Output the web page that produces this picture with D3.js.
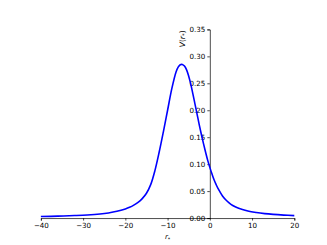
<!DOCTYPE html>
<html>
<head>
<meta charset="utf-8">
<script src="https://cdn.jsdelivr.net/npm/d3@7"></script>
<style>
  html, body { margin: 0; padding: 0; background: #fff; }
  svg { display: block; }
  text { font-family: "DejaVu Sans", sans-serif; }
</style>
</head>
<body>
<svg id="chart" width="327" height="245"></svg>
<script>
// tortoise coordinate r* (x) and potential V(r*) (y)
const rStar = [-40, -36, -32, -29, -26, -24, -22, -20, -19, -18, -17, -16, -15, -14, -13, -12, -11, -10, -9, -8, -7.5, -7, -6.5, -6, -5.5, -5, -4.5, -4, -3.5, -3, -2.5, -2, -1.5, -1, -0.5, 0, 0.5, 1, 1.5, 2, 3, 4, 5, 6, 7, 9, 11, 13, 15, 17.5, 20];
const V = [0.0028, 0.0035, 0.0046, 0.0057, 0.0075, 0.0095, 0.0125, 0.017, 0.020, 0.024, 0.029, 0.036, 0.046, 0.062, 0.088, 0.122, 0.160, 0.200, 0.240, 0.271, 0.280, 0.2845, 0.285, 0.282, 0.275, 0.263, 0.248, 0.230, 0.211, 0.192, 0.173, 0.155, 0.138, 0.122, 0.107, 0.094, 0.082, 0.071, 0.062, 0.054, 0.041, 0.032, 0.0255, 0.021, 0.0175, 0.013, 0.0102, 0.0082, 0.0068, 0.0055, 0.0045];
const xTicks = [-40, -30, -20, -10, 0, 10, 20];
const yTicks = [0.00, 0.05, 0.10, 0.15, 0.20, 0.25, 0.30, 0.35];
const xLabel = "r*";
const yLabel = "V(r*)";

const svg = d3.select("#chart");
const W = 327, H = 245;
const mLeft = 0.125 * W, mRight = 0.9 * W, mTop = 0.12 * H, mBottom = 0.89 * H;

const x = d3.scaleLinear().domain([-40, 20]).range([mLeft, mRight]);
const y = d3.scaleLinear().domain([0, 0.35]).range([mBottom, mTop]);

const fmtX = d => (d < 0 ? "\u2212" + Math.abs(d) : String(d));

// x axis at y = 0
const xAxis = svg.append("g")
  .attr("transform", `translate(0,${y(0)})`)
  .call(d3.axisBottom(x).tickValues(xTicks).tickFormat(fmtX).tickSize(2.5).tickPadding(2));
// y axis at x = 0
const yAxis = svg.append("g")
  .attr("transform", `translate(${x(0)},0)`)
  .call(d3.axisLeft(y).tickValues(yTicks).tickFormat(d3.format(".2f")).tickSize(2.5).tickPadding(2));

[xAxis, yAxis].forEach(g => {
  g.select(".domain").attr("stroke", "#000").attr("stroke-width", 0.7);
  g.selectAll(".tick line").attr("stroke", "#000").attr("stroke-width", 0.7);
  g.selectAll(".tick text").attr("fill", "#000").style("font-size", "7.1px")
    .style("font-family", "'DejaVu Sans', sans-serif");
});

// curve
const line = d3.line()
  .x((d, i) => x(rStar[i]))
  .y((d, i) => y(V[i]))
  .curve(d3.curveCatmullRom.alpha(0.5));

svg.append("path")
  .datum(V)
  .attr("d", line)
  .attr("fill", "none")
  .attr("stroke", "#0000ff")
  .attr("stroke-width", 1.6);

// x label: r_*
const xl = svg.append("text")
  .attr("x", (mLeft + mRight) / 2)
  .attr("y", 239)
  .attr("text-anchor", "middle")
  .style("font-size", "7.1px")
  .attr("fill", "#000");
xl.append("tspan").style("font-style", "italic").text(xLabel[0]);
xl.append("tspan").attr("dy", 1.5).style("font-size", "5px").text(xLabel[1]);

// y label: V(r_*) rotated, at top
const yl = svg.append("text")
  .attr("transform", `translate(184.5,${mTop + 1}) rotate(-90)`)
  .attr("text-anchor", "end")
  .style("font-size", "7.6px")
  .attr("fill", "#000");
yl.append("tspan").style("font-style", "italic").text("V");
yl.append("tspan").text("(");
yl.append("tspan").style("font-style", "italic").text("r");
yl.append("tspan").attr("dy", 1.5).style("font-size", "5.3px").text("*");
yl.append("tspan").attr("dy", -1.5).text(")");
</script>
</body>
</html>
